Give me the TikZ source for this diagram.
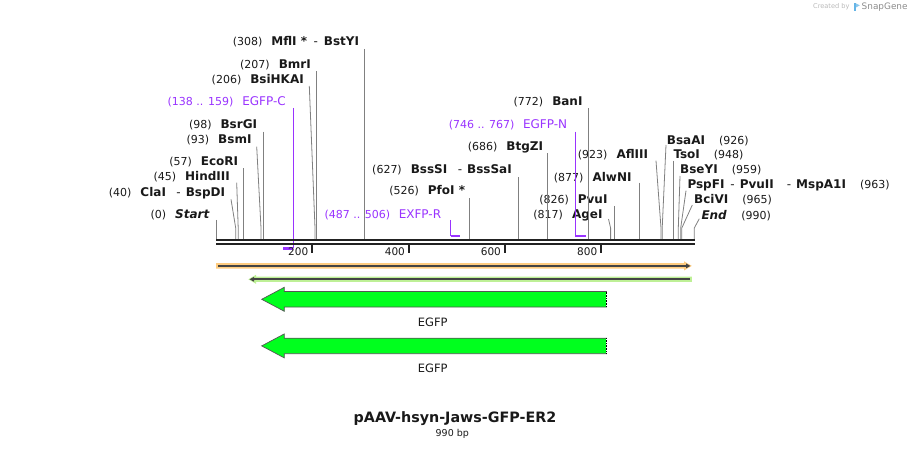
\documentclass[tikz,border=0pt]{standalone}
\usepackage{fontspec}
\setmainfont{DejaVu Sans}
\usetikzlibrary{arrows.meta}
\definecolor{txt}{RGB}{25,25,25}
\definecolor{sitegray}{RGB}{128,128,128}
\definecolor{purp}{RGB}{153,51,255}
\definecolor{barc}{RGB}{34,34,34}
\definecolor{orangef}{RGB}{255,204,128}
\definecolor{greenf}{RGB}{190,240,150}
\definecolor{featline}{RGB}{68,68,68}
\definecolor{egfpc}{RGB}{0,255,30}
\definecolor{egfpline}{RGB}{85,85,85}
\definecolor{cbgray}{RGB}{185,185,185}
\definecolor{sggray}{RGB}{140,140,140}
\definecolor{logoblue}{RGB}{100,180,230}
\newcommand\nm[1]{{\fontsize{12}{14}\selectfont\bfseries #1}}
\newcommand\nb[1]{{\fontsize{11}{13}\selectfont #1}}
\newcommand\pl[1]{{\fontsize{12}{14}\selectfont #1}}
\newcommand\sitel[4]{%
  \coordinate (#1t) at (#2,#3);
  \coordinate (#1m) at (#4,228);
  \coordinate (#1b) at (#4,239);
  \draw[siteline] (#1t) -- (#1m) -- (#1b);}
\tikzset{
  lab/.style={inner sep=0pt, text=txt, anchor=base east},
  rlab/.style={inner sep=0pt, text=txt, anchor=base west},
  plab/.style={inner sep=0pt, text=purp, anchor=base east},
  siteline/.style={draw=sitegray, line width=0.8pt},
  primerline/.style={draw=purp, line width=1pt},
  primerfoot/.style={draw=purp, line width=2.2pt},
  barline/.style={draw=barc, line width=2.3pt},
  tickline/.style={draw=barc, line width=2pt},
  rulernum/.style={inner sep=0pt, text=txt, anchor=base east, font=\fontsize{10.5}{12}\selectfont},
  egfpshape/.style={fill=egfpc, draw=egfpline, line width=0.7pt, line join=miter},
  featlab/.style={inner sep=0pt, text=txt, anchor=base, font=\fontsize{11.5}{13}\selectfont},
}
\begin{document}
\begin{tikzpicture}[x=1pt,y=-1pt]
\useasboundingbox (0,0) rectangle (911,449);

% ---------- left-side labels ----------
\node[lab] (lMflI) at (359.3,46) {\nb{(308)}\hspace{9pt}\nm{MflI *}\hspace{6.5pt}\pl{-}\hspace{6pt}\nm{BstYI}};
\node[lab] (lBmrI) at (311,68.3) {\nb{(207)}\hspace{9pt}\nm{BmrI}};
\node[lab] (lBsiHKAI) at (304,84) {\nb{(206)}\hspace{9pt}\nm{BsiHKAI}};
\node[plab] (lEGFPC) at (286,105.7) {\nb{(138 .. 159)}\hspace{9pt}\pl{EGFP-C}};
\node[lab] (lBsrGI) at (257.3,128.3) {\nb{(98)}\hspace{9pt}\nm{BsrGI}};
\node[lab] (lBsmI) at (251.7,143.3) {\nb{(93)}\hspace{9pt}\nm{BsmI}};
\node[lab] (lEcoRI) at (238.3,166) {\nb{(57)}\hspace{9pt}\nm{EcoRI}};
\node[lab] (lHindIII) at (230,180.7) {\nb{(45)}\hspace{9pt}\nm{HindIII}};
\node[lab] (lClaI) at (225.3,196.3) {\nb{(40)}\hspace{9pt}\nm{ClaI}\hspace{10.5pt}\pl{-}\hspace{5pt}\nm{BspDI}};
\node[lab] (lStart) at (209.5,218.7) {\nb{(0)}\hspace{9pt}\nm{\itshape Start}};

% ---------- middle labels ----------
\node[lab] (lBanI) at (582.7,106) {\nb{(772)}\hspace{9pt}\nm{BanI}};
\node[plab] (lEGFPN) at (567.3,128.7) {\nb{(746 .. 767)}\hspace{8.5pt}\pl{EGFP-N}};
\node[lab] (lBtgZI) at (543.3,150.7) {\nb{(686)}\hspace{9pt}\nm{BtgZI}};
\node[lab] (lBssSI) at (512,174) {\nb{(627)}\hspace{9pt}\nm{BssSI}\hspace{10.5pt}\pl{-}\hspace{5pt}\nm{BssSaI}};
\node[lab] (lPfoI) at (465.3,195) {\nb{(526)}\hspace{9pt}\nm{PfoI *}};
\node[plab] (lEXFPR) at (441.3,219) {\nb{(487 .. 506)}\hspace{8.5pt}\pl{EXFP-R}};
\node[lab] (lAflIII) at (648.3,159) {\nb{(923)}\hspace{9pt}\nm{AflIII}};
\node[lab] (lAlwNI) at (631.7,181.3) {\nb{(877)}\hspace{9pt}\nm{AlwNI}};
\node[lab] (lPvuI) at (607.7,203.3) {\nb{(826)}\hspace{9pt}\nm{PvuI}};
\node[lab] (lAgeI) at (602.7,219) {\nb{(817)}\hspace{9pt}\nm{AgeI}};

% ---------- right-side labels ----------
\node[rlab] (lBsaAI) at (666.7,144.7) {\nm{BsaAI}\hspace{14pt}\nb{(926)}};
\node[rlab] (lTsoI) at (673.3,158.7) {\nm{TsoI}\hspace{14pt}\nb{(948)}};
\node[rlab] (lBseYI) at (680,174) {\nm{BseYI}\hspace{14pt}\nb{(959)}};
\node[rlab] (lPspFI) at (687.3,188.3) {\nm{PspFI}\hspace{6pt}\pl{-}\hspace{5pt}\nm{PvuII}\hspace{13pt}\pl{-}\hspace{5pt}\nm{MspA1I}\hspace{14pt}\nb{(963)}};
\node[rlab] (lBciVI) at (694,204) {\nm{BciVI}\hspace{14pt}\nb{(965)}};
\node[rlab] (lEnd) at (701.3,219.3) {\nm{\itshape End}\hspace{14.5pt}\nb{(990)}};

% ---------- site lines ----------
\sitel{MflI}{364.3}{49}{364.3}
\sitel{BmrI}{316.6}{71.5}{316.6}
\sitel{BsiHKAI}{309.3}{86}{315}
\sitel{BsrGI}{263.3}{131.7}{263.3}
\sitel{BsmI}{256.7}{146.7}{261}
\sitel{EcoRI}{243.3}{168.3}{243.3}
\sitel{HindIII}{236.7}{182.7}{238.2}
\sitel{ClaI}{231}{199.3}{235.7}
\sitel{Start}{216.5}{220}{216.5}
\sitel{BanI}{588.3}{108.3}{588.3}
\sitel{BtgZI}{547.3}{153.3}{547.3}
\sitel{BssSI}{518.3}{177.3}{518.3}
\sitel{PfoI}{469.3}{198.3}{469.3}
\sitel{AflIII}{656}{160.7}{661}
\sitel{AlwNI}{639.3}{182.7}{639.3}
\sitel{PvuI}{614.3}{206}{614.3}
\sitel{AgeI}{608.5}{219}{610.6}
\sitel{BsaAI}{666}{145}{662.2}
\sitel{TsoI}{673.3}{160.7}{673.3}
\sitel{BseYI}{680}{176}{678.3}
\sitel{PspFI}{686}{190.7}{680.7}
\sitel{BciVI}{692.3}{205}{681.8}
\sitel{End}{699.3}{218.7}{694.3}

% ---------- primers ----------
\coordinate (pCt) at (293.3,108);
\coordinate (pCb) at (293.3,248.5);
\coordinate (pCf) at (283,248.5);
\draw[primerline] (pCt) -- (pCb);
\draw[primerfoot] (pCb) -- (pCf);
\coordinate (pNt) at (575.3,131.7);
\coordinate (pNb) at (575.3,235.7);
\coordinate (pNf) at (585.5,235.7);
\draw[primerline] (pNt) -- (pNb);
\draw[primerfoot] (pNb) -- (pNf);
\coordinate (pRt) at (450.7,220);
\coordinate (pRb) at (450.7,235.7);
\coordinate (pRf) at (459.5,235.7);
\draw[primerline] (pRt) -- (pRb);
\draw[primerfoot] (pRb) -- (pRf);

% ---------- sequence bar ----------
\coordinate (barL1) at (216,240);
\coordinate (barR1) at (694.7,240);
\coordinate (barL2) at (216,244.3);
\coordinate (barR2) at (694.7,244.3);
\draw[barline] (barL1) -- (barR1);
\draw[barline] (barL2) -- (barR2);

% ---------- ruler ----------
\foreach \v/\x in {200/312,400/408.7,600/504.7,800/601}{
  \coordinate (tk\v a) at (\x,245.5);
  \coordinate (tk\v b) at (\x,253);
  \draw[tickline] (tk\v a) -- (tk\v b);
  \node[rulernum] (rn\v) at (\x-3.6,256) {\v};
}

% ---------- full-length features ----------
\fill[orangef] (216,263.1) -- (684,263.1) -- (684,261.3) -- (691.8,265.9) -- (684,270.5) -- (684,268.7) -- (216,268.7) -- cycle;
\coordinate (orL) at (218,265.9);
\coordinate (orR) at (690.5,265.9);
\draw[featline, line width=1.6pt, -{Triangle[length=4.5pt,width=4.5pt]}] (orL) -- (orR);

\fill[greenf] (691.8,276.6) -- (256,276.6) -- (256,274.8) -- (248.3,279.3) -- (256,283.8) -- (256,282) -- (691.8,282) -- cycle;
\coordinate (grR) at (690,279.3);
\coordinate (grL) at (249.5,279.3);
\draw[featline, line width=1.6pt, -{Triangle[length=4.5pt,width=4.5pt]}] (grR) -- (grL);

% ---------- EGFP arrows ----------
\draw[egfpshape] (261.7,299.3) -- (284.3,287.3) -- (284.3,291.6) -- (606.5,291.6) -- (606.5,307.1) -- (284.3,307.1) -- (284.3,311.3) -- cycle;
\draw[white, line width=0.8pt] (606.5,291.6) -- (606.5,307.1);
\draw[black, line width=0.8pt, dash pattern=on 0.8pt off 0.8pt] (606.5,291.6) -- (606.5,307.1);
\node[featlab] (egfp1) at (432.7,326.5) {EGFP};

\draw[egfpshape] (261.7,345.9) -- (284.3,333.9) -- (284.3,338.2) -- (606.5,338.2) -- (606.5,353.7) -- (284.3,353.7) -- (284.3,357.9) -- cycle;
\draw[white, line width=0.8pt] (606.5,338.2) -- (606.5,353.7);
\draw[black, line width=0.8pt, dash pattern=on 0.8pt off 0.8pt] (606.5,338.2) -- (606.5,353.7);
\node[featlab] (egfp2) at (432.7,372.5) {EGFP};

% ---------- title ----------
\node[inner sep=0pt, anchor=base, text=txt] (title) at (455,422.3) {\fontsize{14.3}{16}\selectfont\bfseries pAAV-hsyn-Jaws-GFP-ER2};
\node[inner sep=0pt, anchor=base, text=txt] (bp) at (452.3,436) {\fontsize{9.5}{11}\selectfont 990 bp};

% ---------- watermark ----------
\node[inner sep=0pt, anchor=base west, text=cbgray] (createdby) at (813,9) {\fontsize{6.6}{8}\selectfont Created by};
\fill[logoblue] (853.5,3.3) rectangle (855.8,11);
\fill[logoblue!75] (855.8,3.3) -- (859.8,5.3) -- (855.8,7.6) -- cycle;
\node[inner sep=0pt, anchor=base west, text=sggray] (snapgene) at (861.5,9.3) {\fontsize{8.9}{10}\selectfont SnapGene};
\end{tikzpicture}
\end{document}
